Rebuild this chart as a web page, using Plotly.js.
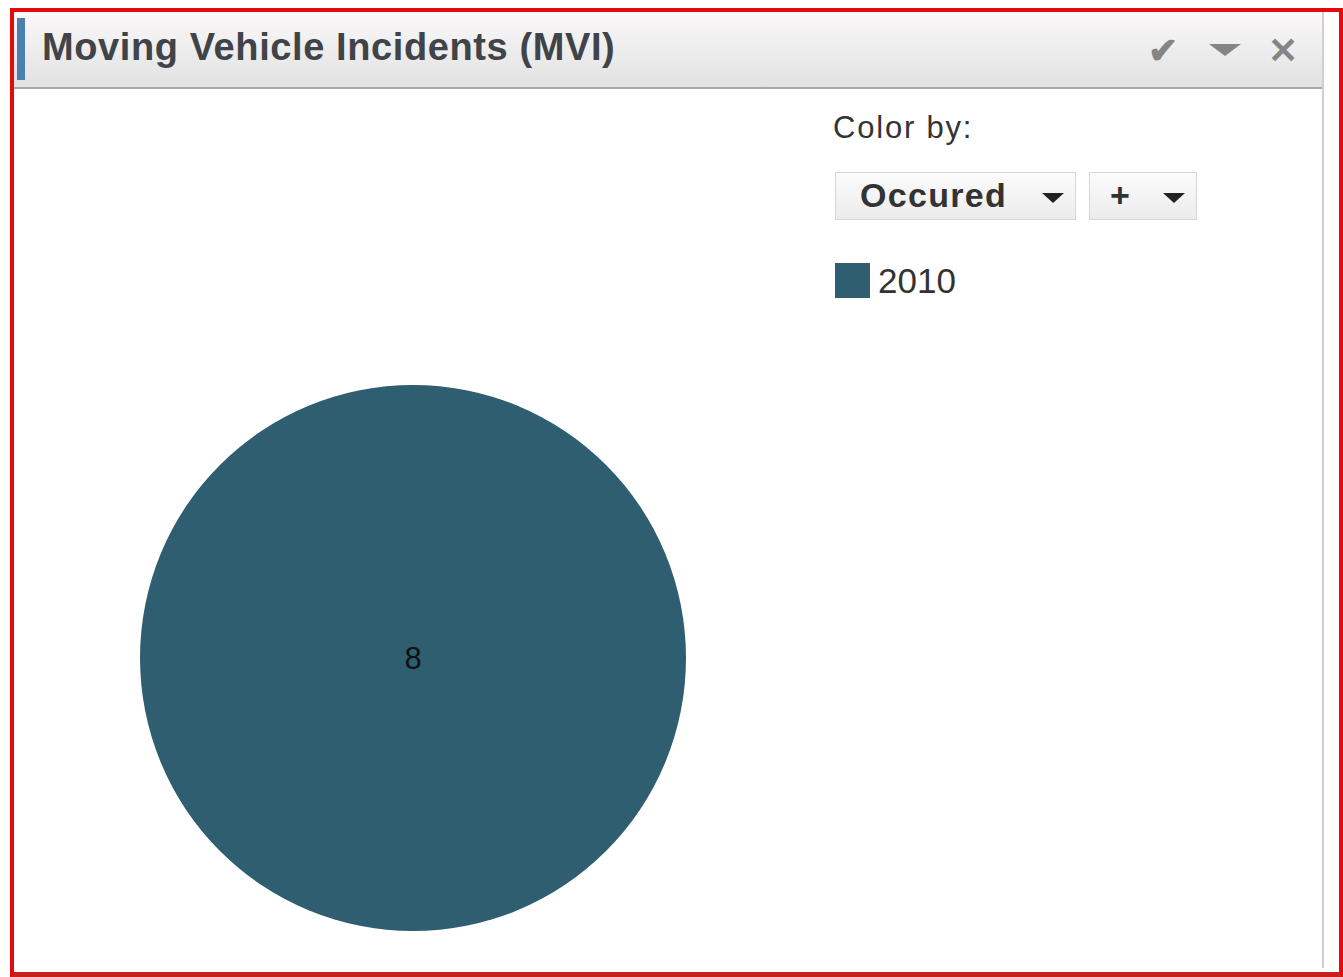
<!DOCTYPE html>
<html>
<head>
<meta charset="utf-8">
<script src="https://cdn.plot.ly/plotly-3.0.1.min.js"></script>
<style>
  html, body { margin:0; padding:0; background:#ffffff; width:1343px; height:977px; overflow:hidden; font-family:"Liberation Sans", Arial, sans-serif; }
  #frame { position:absolute; left:10px; top:8px; width:1325px; height:960px; border:4px solid #e20a0a; border-bottom:6px solid #c8201a; pointer-events:none; }
  #panel { position:absolute; left:14px; top:12px; width:1308px; height:956px; border-right:2px solid #d0d0d0; background:transparent; }
  #header { position:absolute; left:0; top:0; width:1308px; height:75px; background:linear-gradient(#fbf8fa, #ebebeb 60%, #e2e2e2); border-bottom:2px solid #a8a8a8; }
  #accent { position:absolute; left:3px; top:6px; width:8px; height:62px; background:#4a7fb0; }
  #title { position:absolute; left:28px; top:14px; font-size:38px; letter-spacing:0.6px; font-weight:bold; color:#404448; }
  .icon { position:absolute; top:18px; font-size:36px; color:#858585; font-weight:bold; }
  #chart { position:absolute; left:0; top:0; width:1343px; height:977px; }
  .dd { position:absolute; top:172px; height:48px; border:1px solid #d6d6d6; background:linear-gradient(#fbfbfb,#ececec); box-sizing:border-box; font-size:34px; letter-spacing:1.3px; font-weight:bold; color:#333; }
  .caret { position:absolute; top:20px; width:0; height:0; border-left:11px solid transparent; border-right:11px solid transparent; border-top:10px solid #222; }
</style>
</head>
<body>
<div id="chart"></div>
<div id="frame"></div>
<div id="panel">
  <div id="header">
    <div id="accent"></div>
    <div id="title">Moving Vehicle Incidents (MVI)</div>
    <div class="icon" style="left:1134px;">&#10004;</div>
    <div class="caret" style="left:1195px; top:32px; border-left-width:16px; border-right-width:16px; border-top:12px solid #858585;"></div>
    <div class="icon" style="left:1254px;">&#10005;</div>
  </div>
</div>
<div style="position:absolute; left:833px; top:110px; font-size:31px; letter-spacing:1.8px; color:#333;">Color by:</div>
<div class="dd" style="left:835px; width:241px;"><span style="position:absolute; left:24px; top:3px;">Occured</span><div class="caret" style="left:206px;"></div></div>
<div class="dd" style="left:1089px; width:108px;"><span style="position:absolute; left:20px; top:3px;">+</span><div class="caret" style="left:73px;"></div></div>
<script>
// Data
const labels = ["2010"];
const values = [8];
const colors = ["#2e5e70"];

const W = 1343, H = 977;
const px = (v) => v / W, py = (v) => 1 - v / H;

const legendShapes = [], legendAnn = [];
labels.forEach((lab, i) => {
  const top = 263 + i * 45;
  legendShapes.push({type:"rect", xref:"paper", yref:"paper", x0:px(835), x1:px(870), y0:py(top+35), y1:py(top), fillcolor:colors[i], line:{width:0}, layer:"above"});
  legendAnn.push({xref:"paper", yref:"paper", x:px(876), y:py(top+17), xanchor:"left", yanchor:"middle", text:lab, showarrow:false, font:{family:"Liberation Sans, Arial, sans-serif", size:35, color:"#333"}});
});

Plotly.newPlot("chart", [{
  type:"pie",
  labels: labels,
  values: values,
  marker:{colors: colors, line:{width:0}},
  textinfo:"value",
  textposition:"inside",
  insidetextorientation:"horizontal",
  textfont:{family:"Liberation Sans, Arial, sans-serif", size:31, color:"#111"},
  sort:false,
  hoverinfo:"none",
  domain:{x:[px(140), px(686)], y:[py(931), py(385)]}
}], {
  width:W, height:H,
  margin:{l:0, r:0, t:0, b:0},
  paper_bgcolor:"#ffffff",
  showlegend:false,
  shapes: legendShapes,
  annotations: legendAnn
}, {staticPlot:true, displayModeBar:false});
</script>
</body>
</html>
